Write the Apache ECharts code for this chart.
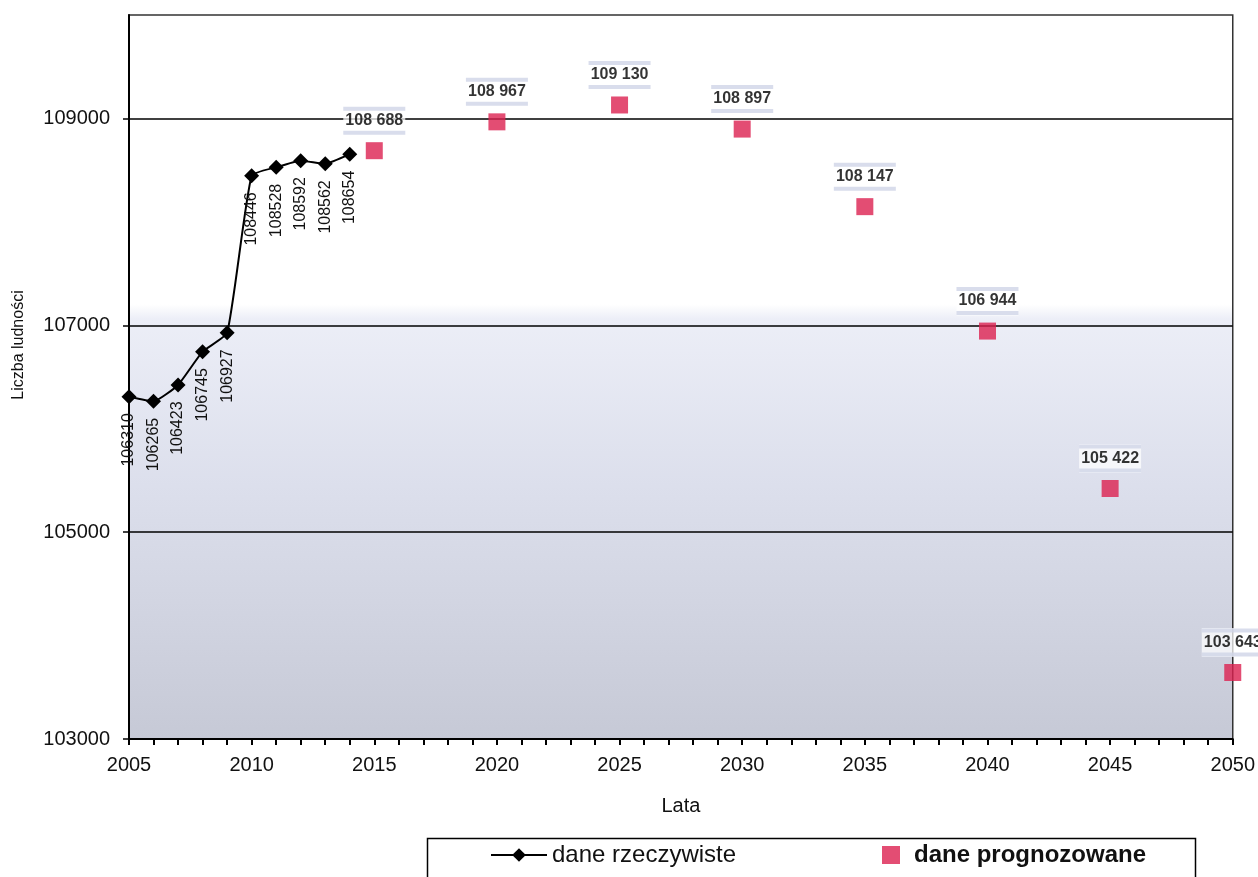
<!DOCTYPE html>
<html>
<head>
<meta charset="utf-8">
<script src="https://cdn.jsdelivr.net/npm/echarts@6/dist/echarts.min.js"></script>
<style>
html,body{margin:0;padding:0;background:#fff;}
#c{width:1258px;height:877px;}
</style>
</head>
<body>
<div id="c"></div>
<script>
const actualYears = [2005, 2006, 2007, 2008, 2009, 2010, 2011, 2012, 2013, 2014];
const actualValues = [106310, 106265, 106423, 106745, 106927, 108446, 108528, 108592, 108562, 108654];
const forecastYears = [2015, 2020, 2025, 2030, 2035, 2040, 2045, 2050];
const forecastValues = [108688, 108967, 109130, 108897, 108147, 106944, 105422, 103643];
const yTickValues = [103000, 105000, 107000, 109000];
const seriesNames = ['dane rzeczywiste', 'dane prognozowane'];

const FONT = 'Liberation Sans, Arial, sans-serif';
function spaced(v) {
  const s = String(v);
  return s.slice(0, s.length - 3) + ' ' + s.slice(s.length - 3);
}

const chart = echarts.init(document.getElementById('c'), null, {renderer: 'canvas'});
chart.setOption({
  animation: false,
  textStyle: {fontFamily: FONT},
  grid: {
    left: 129, right: 25, top: 15, bottom: 138,
    show: true,
    borderColor: '#333', borderWidth: 1.5,
    backgroundColor: {
      type: 'linear', x: 0, y: 0, x2: 0, y2: 1,
      colorStops: [
        {offset: 0, color: '#ffffff'},
        {offset: 0.40, color: '#ffffff'},
        {offset: 0.42, color: '#eceef7'},
        {offset: 0.65, color: '#dcdfec'},
        {offset: 1, color: '#c6c9d6'}
      ]
    }
  },
  graphic: [{
    type: 'rect', left: 425, top: 836,
    shape: {width: 768, height: 60},
    style: {fill: 'none', stroke: '#000', lineWidth: 1.5},
    silent: true
  }],
  xAxis: {
    type: 'value', min: 2005, max: 2050, interval: 1,
    name: 'Lata', nameLocation: 'middle', nameGap: 57,
    nameTextStyle: {fontSize: 20, color: '#111', fontFamily: FONT},
    axisLine: {show: true, lineStyle: {color: '#000', width: 2}},
    axisTick: {show: true, length: 6, lineStyle: {color: '#000', width: 2}},
    axisLabel: {
      fontSize: 20, color: '#111', margin: 16, fontFamily: FONT,
      formatter: v => (v % 5 === 0 ? String(v) : '')
    },
    splitLine: {show: false}
  },
  yAxis: {
    type: 'value', min: 103000, max: 110000,
    name: 'Liczba ludności', nameLocation: 'middle', nameGap: 102, nameRotate: 90,
    nameTextStyle: {fontSize: 16, color: '#111', fontFamily: FONT, padding: [0, 0, 0, 64]},
    axisLine: {show: true, lineStyle: {color: '#000', width: 2}},
    axisTick: {show: true, length: 6, lineStyle: {color: '#000', width: 1.5}, customValues: yTickValues},
    axisLabel: {
      fontSize: 20, color: '#111', margin: 19, fontFamily: FONT, customValues: yTickValues,
      formatter: v => String(v)
    },
    splitLine: {show: true, lineStyle: {color: '#000', width: 1.5}}
  },
  legend: [
    {
      left: 490, top: 843, padding: 0,
      itemWidth: 56, itemHeight: 17,
      data: [{name: seriesNames[0]}],
      textStyle: {fontSize: 24, color: '#111', fontFamily: FONT}
    },
    {
      left: 882, top: 843, padding: 0,
      itemWidth: 36, itemHeight: 18,
      symbolKeepAspect: true,
      data: [{name: seriesNames[1], icon: 'path://M0,0L10,0L10,10L0,10Z'}],
      textStyle: {fontSize: 24, color: '#111', fontWeight: 'bold', fontFamily: FONT}
    }
  ],
  series: [
    {
      name: seriesNames[0],
      type: 'line',
      data: actualYears.map((y, i) => [y, actualValues[i]]),
      symbol: 'diamond', symbolSize: 15,
      smooth: 0.15,
      lineStyle: {color: '#000', width: 2},
      itemStyle: {color: '#000'},
      label: {
        show: true, position: 'bottom', distance: 9,
        rotate: 90, align: 'right', verticalAlign: 'middle',
        fontSize: 16, color: '#111', fontFamily: FONT,
        formatter: p => String(p.value[1])
      },
      z: 3
    },
    {
      name: seriesNames[1],
      type: 'scatter',
      data: forecastYears.map((y, i) => [y, forecastValues[i]]),
      symbol: 'rect', symbolSize: 17,
      itemStyle: {color: '#dc2150'},
      label: {
        show: true, position: 'top', distance: 7,
        formatter: p => '{bar| }\n{t|' + spaced(p.value[1]) + '}\n{bar| }',
        backgroundColor: 'rgba(255,255,255,0.9)',
        rich: {
          bar: {width: 62, height: 4, lineHeight: 5, backgroundColor: '#d0d4e7', fontSize: 2},
          t: {fontSize: 16, fontWeight: 'bold', color: '#000', lineHeight: 19, align: 'center', width: 62, fontFamily: FONT}
        }
      },
      z: 4
    }
  ]
});
</script>
</body>
</html>
